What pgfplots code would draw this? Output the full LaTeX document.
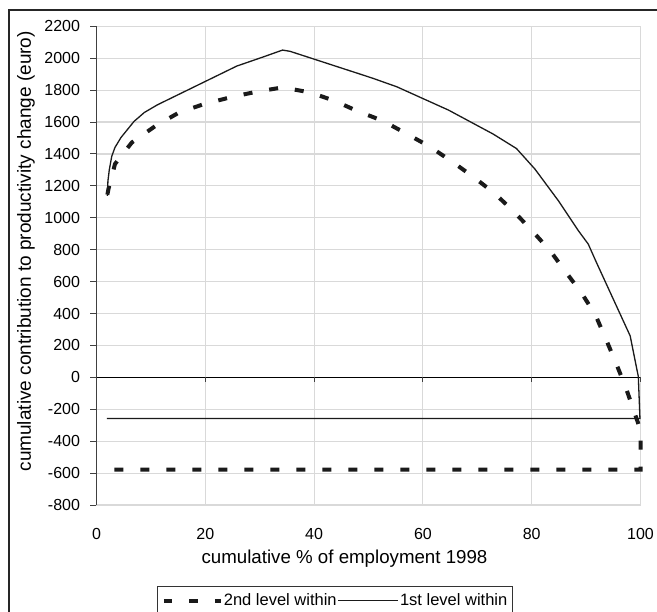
\documentclass[border=0pt]{standalone}
\usepackage{fontspec}
\setmainfont{Liberation Sans}
\usepackage{pgfplots}
\pgfplotsset{compat=1.18}
\definecolor{gridc}{HTML}{D9D9D9}
\definecolor{axc}{HTML}{404040}
\definecolor{ser}{HTML}{1A1A1A}

\begin{document}
\begin{tikzpicture}
\useasboundingbox (0,0) rectangle (657pt,-612pt);
\clip (0,0) rectangle (657pt,-612pt);
\fill[white] (0,0) rectangle (657pt,-612pt);
\draw[line width=1.2pt, color=black!85] (9pt,-10pt) rectangle (800pt,-800pt);
\begin{axis}[
 at={(96.5pt,-505pt)}, anchor=south west,
 scale only axis, width=544pt, height=478.7pt,
 xmin=0, xmax=100, ymin=-800, ymax=2200,
 xtick={0,20,40,60,80,100}, ytick={-800,-600,...,2200},
 grid=major, major grid style={gridc, line width=1.1pt},
 axis line style={draw=none},
 xtick pos=bottom, ytick pos=left,
 x tick style={draw=none},
 y tick style={axc, line width=1pt},
 tick align=outside, major tick length=6pt,
 /pgf/number format/assume math mode=true,
 /pgf/number format/1000 sep={},
 tick label style={font=\fontsize{16}{19}\selectfont},
 yticklabel style={xshift=-7pt},
 xticklabel style={yshift=-14pt},
 xlabel={cumulative \% of employment 1998},
 xlabel style={at={(axis description cs:0.4559,-0.1212)}, anchor=base, font=\fontsize{18.7}{22}\selectfont},
 ylabel={cumulative contribution to productivity change (euro)},
 ylabel style={at={(axis description cs:-0.1296,0.53)}, anchor=center, font=\fontsize{19}{22}\selectfont},
 legend columns=2,
 legend style={at={(axis description cs:0.1112,-0.1692)}, anchor=north west, draw=black!80, line width=0.8pt,
   inner xsep=4.5pt, inner ysep=6.5pt,
   nodes={inner xsep=1pt, inner ysep=1pt},
   font=\fontsize{16.5}{19}\selectfont, /tikz/every even column/.append style={column sep=0pt}},
 clip=false,
]
\draw[axc, line width=1pt] (axis cs:0,-800) -- (axis cs:0,2200);
\draw[black, line width=1.2pt] (axis cs:0,0) -- (axis cs:100,0);
\pgfplotsinvokeforeach{0,20,40,60,80,100}{\draw[axc,line width=1pt] (axis cs:#1,0) -- ([yshift=-5pt]axis cs:#1,0);}

\addplot[ser, line width=4pt, dash pattern=on 9pt off 17pt,
  legend image code/.code={\draw[ser,line width=4pt,dash pattern=on 8.5pt off 17pt] (0pt,0pt) -- (57pt,0pt);}]
coordinates {
(2.0,1145) (2.2,1180) (3.4,1337) (6.5,1472) (10.9,1577) (15.2,1660) (19.8,1713)
(24.5,1754) (29.4,1790) (34.2,1817) (39.2,1786) (43.7,1734) (47.8,1671)
(52.6,1608) (57.1,1525) (61.3,1445) (65.4,1351) (69.4,1253) (73.1,1155)
(76.7,1040) (80.3,910) (83.4,793) (86.2,663) (89.1,532) (91.7,392)
(93.6,243) (95.5,89) (97.3,-64) (98.9,-222) (100,-330) (100,-578) (2.0,-578)
};
\addplot[ser, line width=1.3pt,
  legend image code/.code={\draw[ser,line width=1pt] (4pt,0pt) -- (47pt,0pt); \path (0pt,0pt) -- (60pt,0pt);}]
coordinates {
(2.0,1138) (2.1,1230) (2.35,1300) (2.8,1385) (3.4,1441) (4.5,1503) (6.9,1604)
(8.8,1660) (11.2,1708) (25.8,1951) (30.4,2005) (34.2,2051) (35.6,2043)
(48.4,1901) (50.9,1873) (55.2,1821) (64.7,1675) (72.9,1525) (77.2,1434)
(80.6,1305) (84.9,1107) (88.6,918) (90.4,835) (91.9,720) (98.1,260)
(99.6,5) (99.9,-258) (1.9,-258)
};
\legend{2nd level within, 1st level within}
\end{axis}
\end{tikzpicture}
\end{document}
